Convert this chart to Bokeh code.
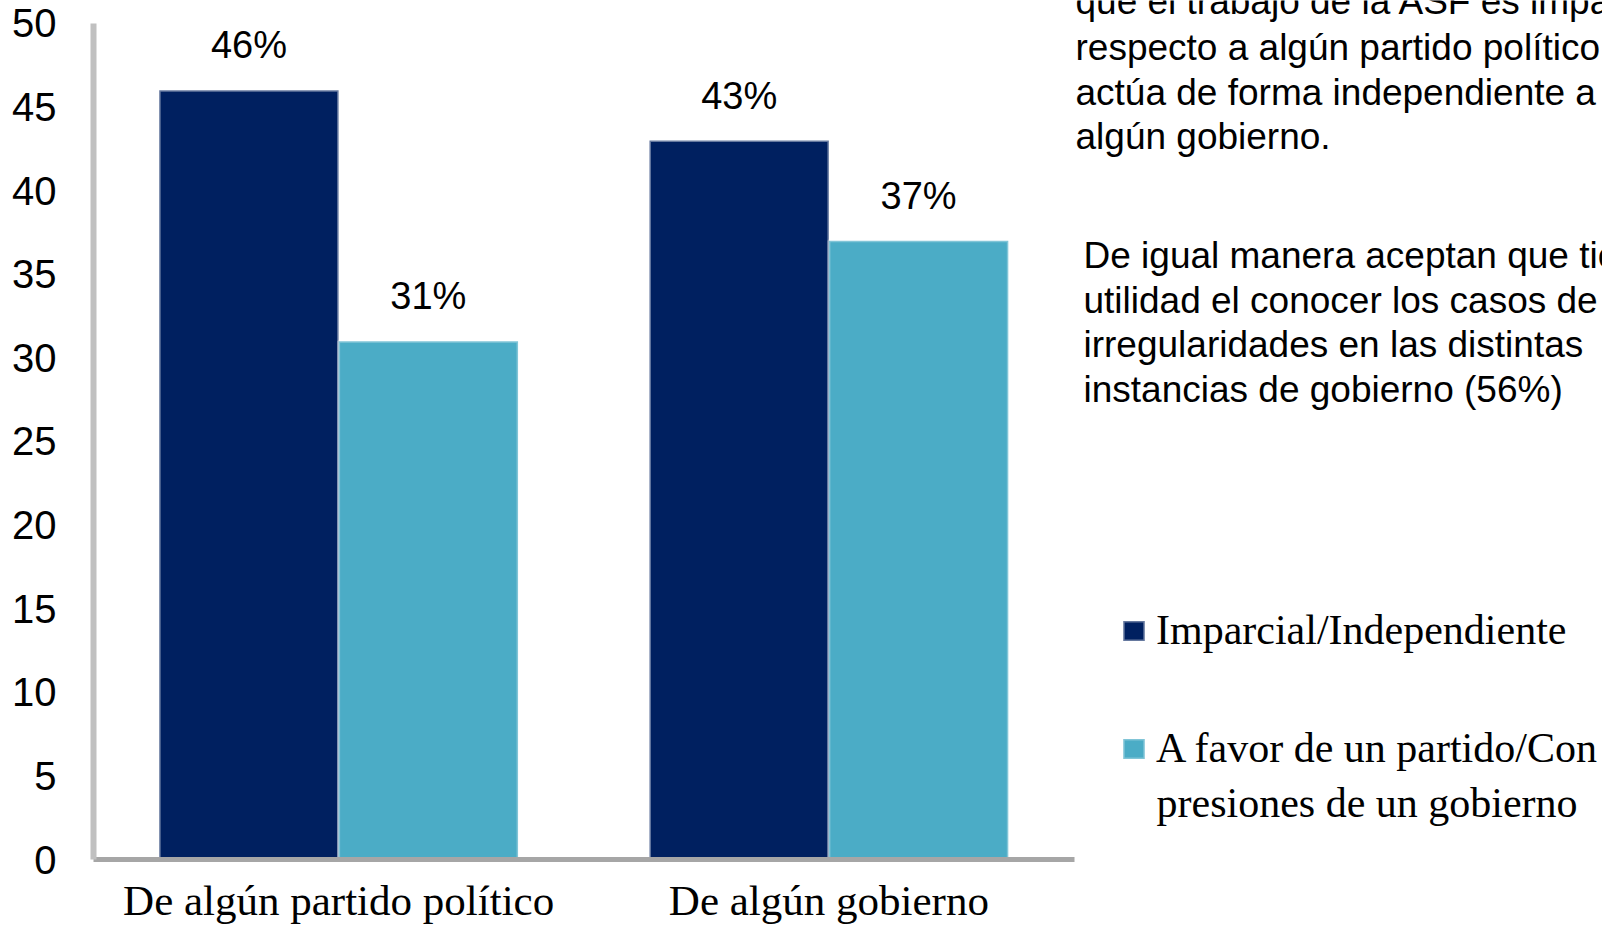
from bokeh.plotting import figure
from bokeh.models import Range1d, FixedTicker, ColumnDataSource, Label, Legend, LegendItem
from bokeh.transform import dodge
from bokeh.core.properties import value
from bokeh.embed import file_html
from bokeh.resources import INLINE

# ---- data ----
categories = ["De algún partido político", "De algún gobierno"]
series_names = ["Imparcial/Independiente", "A favor de un partido/Con"]
series_name_cont = "presiones de un gobierno"
imparcial = [46, 43]
a_favor = [31, 37]
y_ticks = [0, 5, 10, 15, 20, 25, 30, 35, 40, 45, 50]
colors = ["#002060", "#4BACC6"]

para1 = ["que el trabajo de la ASF es imparcial",
         "respecto a algún partido político y",
         "actúa de forma independiente a",
         "algún gobierno."]
para2 = ["De igual manera aceptan que tiene",
         "utilidad el conocer los casos de",
         "irregularidades en las distintas",
         "instancias de gobierno (56%)"]

xs = list(range(len(categories)))
src = ColumnDataSource(dict(
    x=xs,
    imp=imparcial,
    fav=a_favor,
    imp_lbl=[f"{v}%" for v in imparcial],
    fav_lbl=[f"{v}%" for v in a_favor],
))

W, H = 1602, 926
p = figure(width=W, height=H,
           x_range=Range1d(-0.5, 2.578), y_range=Range1d(0, 51.375),
           output_backend="svg", toolbar_location=None,
           min_border_left=93, min_border_right=0,
           min_border_top=0, min_border_bottom=67,
           outline_line_color=None, background_fill_color="white")
p.grid.visible = False

bw = 0.366
off = bw / 2
r1 = p.vbar(x=dodge("x", -off, range=p.x_range), top="imp", width=bw, source=src,
            fill_color=colors[0], line_color="white", line_alpha=0.4, line_width=3)
r2 = p.vbar(x=dodge("x", off, range=p.x_range), top="fav", width=bw, source=src,
            fill_color=colors[1], line_color="white", line_alpha=0.3, line_width=3)

num_font = "Liberation Sans"
p.text(x=dodge("x", -off, range=p.x_range), y="imp", text="imp_lbl", source=src,
       y_offset=-45, text_align="center", text_baseline="alphabetic",
       text_font=value(num_font), text_font_size="38px", text_color="black")
p.text(x=dodge("x", off, range=p.x_range), y="fav", text="fav_lbl", source=src,
       y_offset=-45, text_align="center", text_baseline="alphabetic",
       text_font=value(num_font), text_font_size="38px", text_color="black")

# x axis
xa = p.xaxis[0]
xa.ticker = FixedTicker(ticks=xs)
xa.major_label_overrides = {i: c for i, c in zip(xs, categories)}
xa.bounds = (-0.5, 1.5)
xa.axis_line_color = "#a6a6a6"
xa.axis_line_width = 5
xa.major_tick_line_color = None
xa.minor_tick_line_color = None
xa.major_tick_out = 0
xa.major_tick_in = 0
xa.major_label_standoff = 17
xa.major_label_text_font = "Liberation Serif"
xa.major_label_text_font_size = "43px"
xa.major_label_text_color = "black"

# y axis
ya = p.yaxis[0]
ya.ticker = FixedTicker(ticks=y_ticks)
ya.bounds = (0, 50)
ya.axis_line_color = "#c0c0c0"
ya.axis_line_width = 6
ya.major_tick_line_color = None
ya.minor_tick_line_color = None
ya.major_tick_out = 0
ya.major_tick_in = 0
ya.major_label_standoff = 37
ya.major_label_text_font = num_font
ya.major_label_text_font_size = "40px"
ya.major_label_text_color = "black"

# legend
legend = Legend(items=[LegendItem(label=series_names[0], renderers=[r1]),
                       LegendItem(label=series_names[1], renderers=[r2])],
                location=(1027, 87), orientation="vertical",
                glyph_width=27, glyph_height=25, label_standoff=9,
                spacing=70, padding=0, margin=0,
                border_line_color=None, background_fill_alpha=0,
                label_text_font="Liberation Serif", label_text_font_size="42px",
                label_text_color="black")
p.add_layout(legend)
p.add_layout(Label(x=1063, y=57, x_units="screen", y_units="screen",
                   text=series_name_cont, text_font="Liberation Serif",
                   text_font_size="42px", text_baseline="alphabetic",
                   text_color="black"))

# side text (screen units relative to frame: x from left, y up from bottom)
para1_y = [858, 812, 767.5, 723]
para2_y = [604, 559.5, 515, 470.5]
for t, yy in zip(para1, para1_y):
    p.add_layout(Label(x=982, y=yy, x_units="screen", y_units="screen",
                       text=t, text_font="Liberation Sans", text_font_size="37px",
                       text_baseline="alphabetic", text_color="black"))
for t, yy in zip(para2, para2_y):
    p.add_layout(Label(x=990, y=yy, x_units="screen", y_units="screen",
                       text=t, text_font="Liberation Sans", text_font_size="37px",
                       text_baseline="alphabetic", text_color="black"))

open("out.html", "w").write(file_html(p, INLINE))
